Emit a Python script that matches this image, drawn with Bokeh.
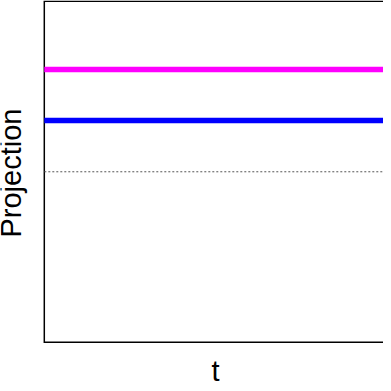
import math
from bokeh.plotting import figure
from bokeh.models import Range1d, Label
from bokeh.embed import file_html
from bokeh.resources import INLINE

# ---- data ----
t = [0.0, 1.0]
proj_magenta = [0.6, 0.6]
proj_blue = [0.3, 0.3]
zero_line = [0.0, 0.0]
y_limits = [-1.0, 1.0]
x_limits = [0.0, 1.0]
x_title = "t"
y_title = "Projection"

# ---- layout (pixels inside the 383x383 canvas) ----
W, H = 383, 383
box_left_px = 43.8
box_bottom_px = 341.8
box_top_px = 0.75
box_right_px = 386.5      # data box continues past the visible window

x_scale = (box_right_px - box_left_px) / (x_limits[1] - x_limits[0])
y_scale = (box_bottom_px - box_top_px) / (y_limits[1] - y_limits[0])
x_rng = Range1d(x_limits[0] - box_left_px / x_scale,
                x_limits[1] - (box_right_px - W) / x_scale)
y_rng = Range1d(y_limits[0] - (H - box_bottom_px) / y_scale,
                y_limits[1] + box_top_px / y_scale)

p = figure(width=W, height=H, output_backend="svg", toolbar_location=None,
           x_range=x_rng, y_range=y_rng, x_axis_type=None, y_axis_type=None,
           min_border=0, min_border_left=0, min_border_right=0,
           min_border_top=0, min_border_bottom=0)
p.outline_line_color = None
p.background_fill_color = "white"
p.border_fill_color = "white"

# plot box (left, top, bottom sides; right side lies beyond the window)
x0, x1 = x_limits
y0, y1 = y_limits
p.line([x1, x0, x0, x1], [y1, y1, y0, y0], line_color="black", line_width=1.5,
       line_join="miter")

p.line(t, zero_line, line_color="#555555", line_width=1, line_dash="2 2")
p.line(t, proj_blue, line_color="#0000FF", line_width=5.5)
p.line(t, proj_magenta, line_color="#FF00FF", line_width=5.5)

xlab = Label(x=(x0 + x1) / 2, y=y0, y_offset=-28.2,
             text=x_title, text_align="center", text_baseline="alphabetic",
             text_font="Liberation Sans", text_font_size="29px", text_color="black")
ylab = Label(x=x0, y=(y0 + y1) / 2, x_offset=-33, y_offset=-1.3,
             angle=math.pi / 2, text=y_title, text_align="center",
             text_baseline="alphabetic", text_font="Liberation Sans",
             text_font_size="29px", text_color="black")
p.add_layout(xlab)
p.add_layout(ylab)

open("out.html", "w").write(file_html(p, INLINE))
